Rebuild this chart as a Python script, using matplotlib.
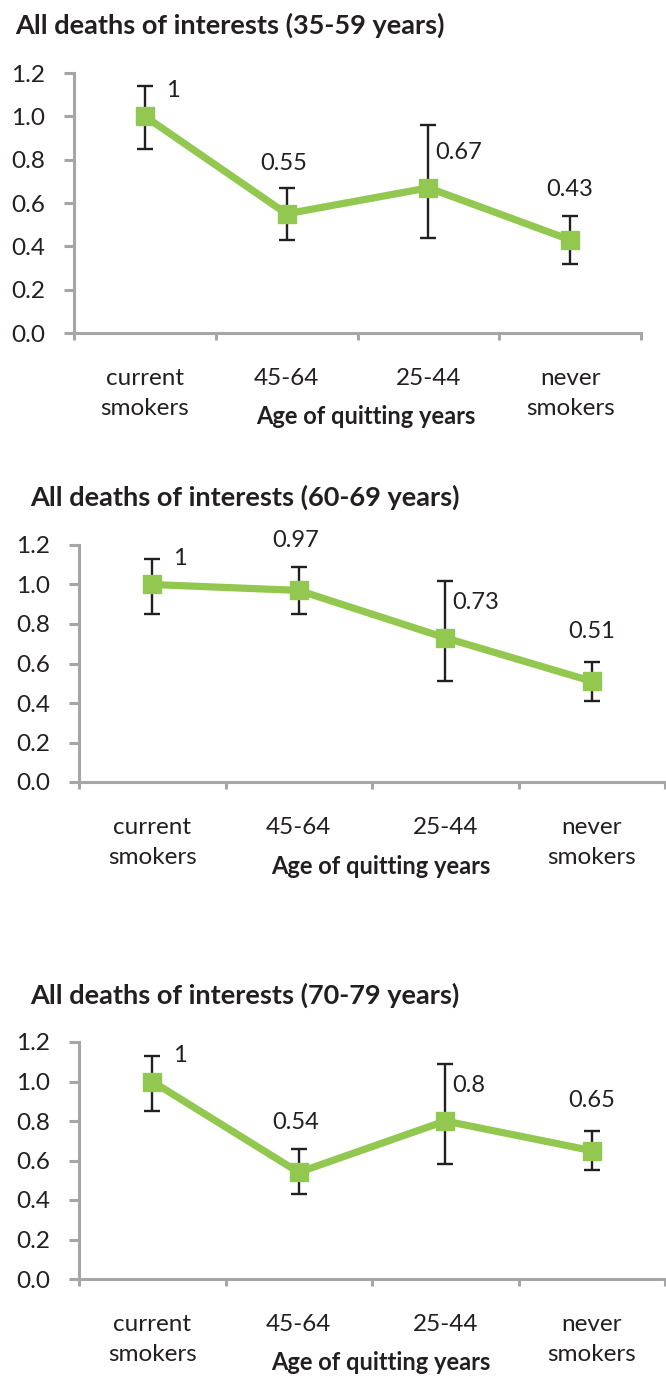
import numpy as np
import matplotlib
matplotlib.use("Agg")
import matplotlib.pyplot as plt

plt.rcParams["font.family"] = ["Lato", "DejaVu Sans"]

# --- data ---
categories = ["current\nsmokers", "45-64", "25-44", "never\nsmokers"]
x_label = "Age of quitting years"
titles = ["All deaths of interests (35-59 years)",
          "All deaths of interests (60-69 years)",
          "All deaths of interests (70-79 years)"]

hr_35_59 = [1.00, 0.55, 0.67, 0.43]
lo_35_59 = [0.85, 0.43, 0.44, 0.32]
hi_35_59 = [1.14, 0.67, 0.96, 0.54]

hr_60_69 = [1.00, 0.97, 0.73, 0.51]
lo_60_69 = [0.85, 0.85, 0.51, 0.41]
hi_60_69 = [1.13, 1.09, 1.02, 0.61]

hr_70_79 = [1.00, 0.54, 0.80, 0.65]
lo_70_79 = [0.85, 0.43, 0.58, 0.55]
hi_70_79 = [1.13, 0.66, 1.09, 0.75]

y_ticks = [0.0, 0.2, 0.4, 0.6, 0.8, 1.0, 1.2]

# --- style ---
W, H = 666, 1388
GREEN = "#92c850"
GRAY = "#a6a6a6"
TXT = "#231f20"
PX = 0.72  # points per pixel at dpi 100
FS = 17

# axes boxes in pixels: left, right, top, bottom
boxes = [(74, 641, 73, 333), (79, 665, 545, 782), (79, 665, 1042, 1279)]
title_pos = [(15, 25), (30, 497), (30, 995)]
# data-label offsets per category (px) and alignment
lab_off = [(28, 26, "center"), (-3, 50, "center"), (7, 35, "left"), (0, 50, "center")]

series = [(hr_35_59, lo_35_59, hi_35_59),
          (hr_60_69, lo_60_69, hi_60_69),
          (hr_70_79, lo_70_79, hi_70_79)]

fig = plt.figure(figsize=(W / 100, H / 100), dpi=100)

for (hr, lo, hi), (l, r, t, b), title, (tx, ty) in zip(series, boxes, titles, title_pos):
    ax = fig.add_axes([l / W, 1 - b / H, (r - l) / W, (b - t) / H])
    x = np.arange(len(categories)) + 0.5
    hr = np.array(hr)
    yerr = [hr - np.array(lo), np.array(hi) - hr]

    ax.errorbar(x, hr, yerr=yerr, fmt="none", ecolor=TXT, elinewidth=1.7,
                capsize=5.5, capthick=1.7, zorder=2)
    ax.plot(x, hr, color=GREEN, lw=5.2, marker="s", ms=13.5, zorder=3)

    for xi, v, (dx, dy, ha) in zip(x, hr, lab_off):
        ax.annotate(f"{v:g}", xy=(xi, v), xytext=(dx * PX, dy * PX),
                    textcoords="offset points", ha=ha, va="center",
                    fontsize=FS, color=TXT)

    ax.set_xlim(0, len(categories))
    ax.set_ylim(0, 1.2)
    ax.set_yticks(y_ticks)
    ax.set_yticklabels([f"{v:.1f}" for v in y_ticks])
    ax.set_xticks(np.arange(len(categories) + 1))
    ax.set_xticklabels([])
    ax.set_xticks(x, minor=True)
    ax.set_xticklabels(categories, minor=True, linespacing=1.5, va="top")

    for side in ["top", "right"]:
        ax.spines[side].set_visible(False)
    for side in ["left", "bottom"]:
        ax.spines[side].set_color(GRAY)
        ax.spines[side].set_linewidth(2.2)
    ax.tick_params(axis="y", length=7, width=2.2, color=GRAY, pad=14,
                   labelsize=FS + 0.5, labelcolor=TXT)
    ax.tick_params(axis="x", which="major", length=5, width=2.2, color=GRAY)
    ax.tick_params(axis="x", which="minor", length=0, pad=25.5,
                   labelsize=FS + 0.5, labelcolor=TXT)

    ax.annotate(x_label, xy=(0.515, 0), xycoords="axes fraction",
                xytext=(0, -84 * PX), textcoords="offset points",
                ha="center", va="center", fontsize=FS, fontweight="bold",
                color=TXT)

    fig.text(tx / W, 1 - ty / H, title, ha="left", va="center",
             fontsize=19.5, fontweight="bold", color=TXT)

fig.savefig("out.png", dpi=100)
